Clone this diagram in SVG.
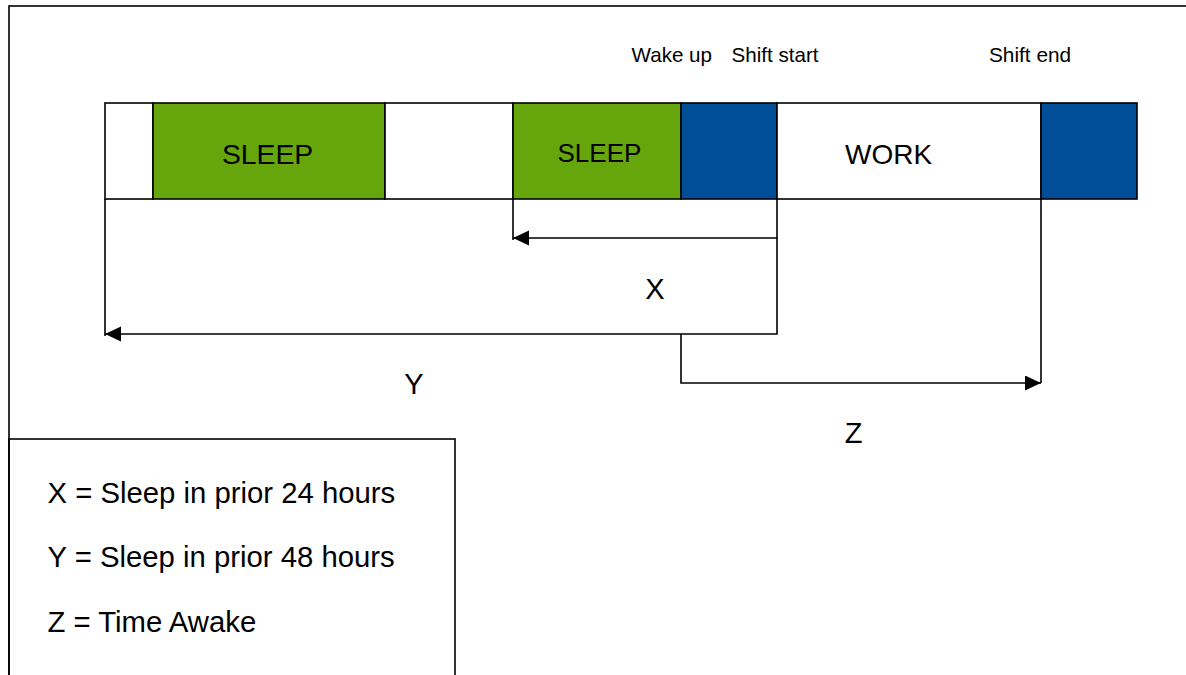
<svg xmlns="http://www.w3.org/2000/svg" width="1186" height="675" viewBox="0 0 1186 675">
<style>
.ln{fill:none;stroke:#000;stroke-width:1.6}
.seg{stroke:#000;stroke-width:1.6}
.t{font-family:"Liberation Sans",Arial,sans-serif;fill:#000}
</style>
<defs>
<marker id="ah" markerUnits="userSpaceOnUse" markerWidth="17" markerHeight="16" refX="16" refY="7.5" orient="auto">
<path d="M0,0 L16,7.5 L0,15 z" fill="#000"/>
</marker>
</defs>
<rect width="1186" height="675" fill="#fff"/>
<rect id="frame" x="9" y="6" width="1200" height="700" class="ln"/>
<g id="labels-top">
<text class="t" x="631.5" y="61.5" font-size="20.6">Wake up</text>
<text class="t" x="731.5" y="61.5" font-size="20.6">Shift start</text>
<text class="t" x="989" y="61.5" font-size="20.8">Shift end</text>
</g>
<g id="bar">
<g id="seg1"><rect x="105" y="103" width="48" height="96" fill="#fff" class="seg"/></g>
<g id="sleep1"><rect x="153" y="103" width="232" height="96" fill="#64A60B" class="seg"/><text class="t" x="222" y="164.3" font-size="28.3">SLEEP</text></g>
<g id="seg3"><rect x="385" y="103" width="128" height="96" fill="#fff" class="seg"/></g>
<g id="sleep2"><rect x="513" y="103" width="168" height="96" fill="#64A60B" class="seg"/><text class="t" x="557.5" y="162.3" font-size="26">SLEEP</text></g>
<g id="wake"><rect x="681" y="103" width="96" height="96" fill="#004E98" class="seg"/></g>
<g id="work"><rect x="777" y="103" width="264" height="96" fill="#fff" class="seg"/><text class="t" x="845" y="164.3" font-size="28">WORK</text></g>
<g id="shiftend"><rect x="1041" y="103" width="96" height="96" fill="#004E98" class="seg"/></g>
</g>
<g id="connectors">
<line class="ln" x1="513" y1="199" x2="513" y2="240"/>
<polyline class="ln" points="777,199 777,238 513,238" marker-end="url(#ah)"/>
<polyline class="ln" points="777,238 777,334 105,334" marker-end="url(#ah)"/>
<line class="ln" x1="105" y1="199" x2="105" y2="336"/>
<polyline class="ln" points="681,334 681,383 1041,383" marker-end="url(#ah)"/>
<line class="ln" x1="1041" y1="199" x2="1041" y2="383"/>
</g>
<g id="dim-labels">
<text class="t" x="655" y="299" font-size="29" text-anchor="middle">X</text>
<text class="t" x="414" y="394.3" font-size="29" text-anchor="middle">Y</text>
<text class="t" x="853.5" y="442.7" font-size="29" text-anchor="middle">Z</text>
</g>
<g id="legend">
<rect x="9" y="439" width="446" height="260" fill="#fff" class="ln"/>
<text class="t" x="47.5" y="502.5" font-size="29.3">X = Sleep in prior 24 hours</text>
<text class="t" x="47.5" y="566.7" font-size="29.3">Y = Sleep in prior 48 hours</text>
<text class="t" x="47.5" y="631.7" font-size="29.3">Z = Time Awake</text>
</g>
</svg>
